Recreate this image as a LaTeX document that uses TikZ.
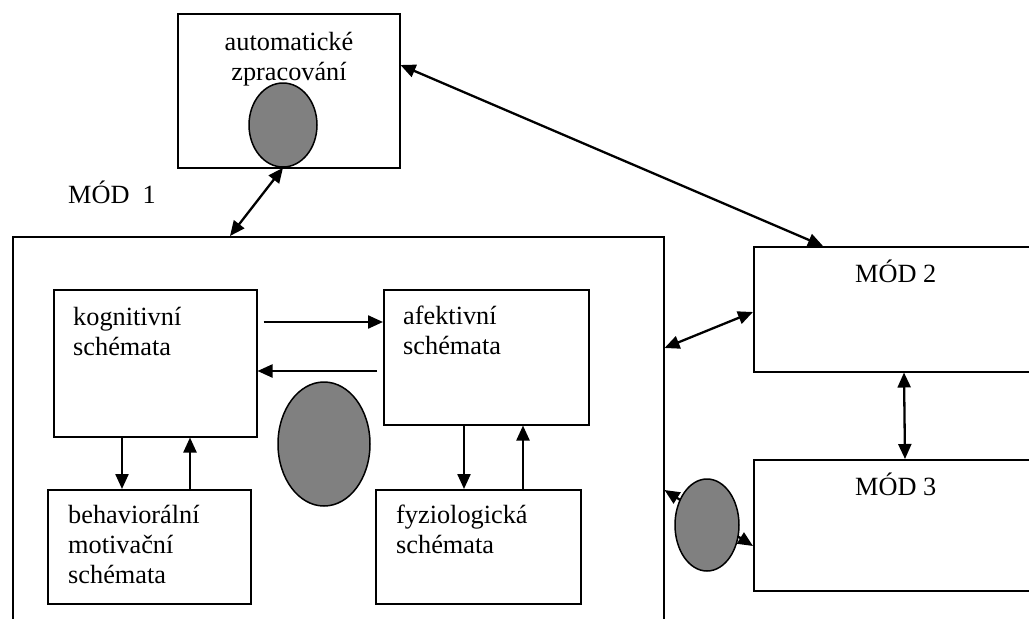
\documentclass[tikz,border=0pt]{standalone}
\usepackage{fontspec}
\setmainfont{Liberation Serif}
\usetikzlibrary{arrows.meta,shapes.geometric}
\definecolor{blobgray}{RGB}{128,128,128}
\newcommand{\linesL}[1]{\begin{tabular}[t]{@{}l@{}}#1\end{tabular}}
\newcommand{\linesC}[1]{\begin{tabular}[t]{@{}c@{}}#1\end{tabular}}
\begin{document}
\begin{tikzpicture}[x=1pt,y=-1pt,
  box/.style={draw, line width=1.5pt, fill=white, inner sep=0pt, anchor=north west},
  txt/.style={inner sep=0pt, anchor=base west, font=\fontsize{26.3}{30}\selectfont},
  blob/.style={draw, line width=1.5pt, fill=blobgray, ellipse, inner sep=0pt},
  tip/.style={Triangle[length=15pt,width=13pt]},
  both/.style={line width=2.3pt, {Triangle[length=15pt,width=13pt]}-{Triangle[length=15pt,width=13pt]}},
  one/.style={line width=2.3pt, -{Triangle[length=15pt,width=13pt]}}
]
\path[use as bounding box] (0,0) rectangle (1029,619);
\clip (0,0) rectangle (1029,619);

% boxes
\node[box, minimum width=222pt, minimum height=154pt] (auto) at (177,13) {};
\node[box, minimum width=651pt, minimum height=420pt] (mod1) at (12,236) {};
\node[box, minimum width=203pt, minimum height=147pt] (kog) at (53,289) {};
\node[box, minimum width=205pt, minimum height=135pt] (afe) at (383,289) {};
\node[box, minimum width=203pt, minimum height=114pt] (beh) at (47,489) {};
\node[box, minimum width=205pt, minimum height=114pt] (fyz) at (375,489) {};
\node[box, minimum width=300pt, minimum height=125pt] (mod2) at (753,246) {};
\node[box, minimum width=300pt, minimum height=131pt] (mod3) at (753,459) {};

% texts
\node[txt, anchor=base] (tauto) at (289,50) {\linesC{automatické\\zpracování}};
\node[txt] (tmod1) at (68,203) {MÓD\ \ 1};
\node[txt] (tkog) at (73,325) {\linesL{kognitivní\\schémata}};
\node[txt] (tafe) at (403,324) {\linesL{afektivní\\schémata}};
\node[txt] (tbeh) at (68,523) {\linesL{behaviorální\\motivační\\schémata}};
\node[txt] (tfyz) at (396,523) {\linesL{fyziologická\\schémata}};
\node[txt] (tmod2) at (855,282) {MÓD 2};
\node[txt] (tmod3) at (855,495) {MÓD 3};

% ellipses (top and middle)
\node[blob, minimum width=68pt, minimum height=84pt] (e1) at (283,125) {};
\node[blob, minimum width=92pt, minimum height=124pt] (e2) at (324,444) {};

% connectors
\draw[both] (e1.south) -- ([xshift=218pt]mod1.north west);
\draw[both] ([yshift=-52pt]auto.north east) -- ([xshift=70pt]mod2.north west);
\draw[both] ([yshift=-112pt]mod1.north east) -- ([yshift=-66pt]mod2.north west);
\draw[both] ([xshift=151pt]mod2.south west) -- ([xshift=152pt]mod3.north west);
\draw[both] ([yshift=-254pt]mod1.north east) -- ([yshift=-87pt]mod3.north west);

\draw[one] ([xshift=6pt,yshift=-33pt]kog.north east) -- ([yshift=-33pt]afe.north west);
\draw[one] ([xshift=-6pt,yshift=-82pt]afe.north west) -- ([yshift=-82pt]kog.north east);
\draw[one] ([xshift=69pt]kog.south west) -- ([xshift=75pt]beh.north west);
\draw[one] ([xshift=143pt]beh.north west) -- ([xshift=137pt]kog.south west);
\draw[one] ([xshift=81pt]afe.south west) -- ([xshift=89pt]fyz.north west);
\draw[one] ([xshift=148pt]fyz.north west) -- ([xshift=140pt]afe.south west);

% ellipse covering the MÓD 1 -- MÓD 3 connector
\node[blob, minimum width=64pt, minimum height=92pt] (e3) at (707,525) {};
\end{tikzpicture}
\end{document}
